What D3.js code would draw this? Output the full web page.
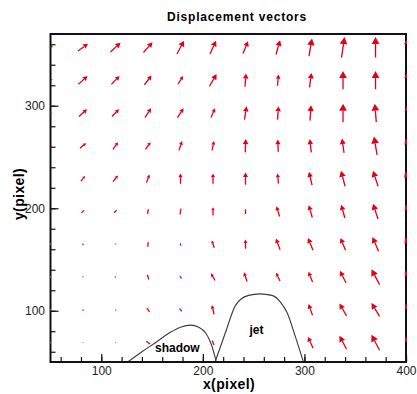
<!DOCTYPE html>
<html>
<head>
<meta charset="utf-8">
<script src="https://cdn.jsdelivr.net/npm/d3@7"></script>
<style>
  body { margin: 0; background: #fff; }
  svg { display: block; font-family: "Liberation Sans", Arial, sans-serif; }
</style>
</head>
<body>
<svg id="svg" width="417" height="394"></svg>
<script>
// grid columns / rows of the vector field (pixel units)
const colX = [50, 82, 114, 146, 178, 210, 242, 274, 306, 338, 370, 402];
const rowY = [357, 325, 293, 261, 229, 197, 165, 133, 101, 69];

// x component of each vector, one line per row (top to bottom), null = no vector
const U = [
  [5, 10, 10, 9, 7, 6, 5, 4, 3, 3, 0, 0],
  [4, 9, 8, 7, 5, 7, 1, 1, 2, 0, 0, 0],
  [3, 8, 7, 6, 6, 4, 2, 1, 1, 0, -1.5, 0],
  [3, 6, 5, 5, 3, 2, 0.5, -0.5, -1.5, -2, -3, -5],
  [1, 4, 5, 3, 0, 0, 0, -1, -3, -4, -5, -6],
  [2, 3, 3, 1, 1, 0, 0, -3, -3.5, -3.5, -5, -5],
  [0, 0, 0, 0.3, -0.5, -2.5, 0, -4, -5, -5, -6, -6],
  [0, 1, 1, -1.5, -2, -4, -3, -4, -4, -6, -8, -6],
  [0, 0, -1, -3, -2.5, -2, null, null, -4, -7, -8, -5],
  [0, 0, 0, -4, null, -2, null, null, -5, -7, -8, -5]
];

// y component of each vector
const V = [
  [3, 7, 9, 10, 13, 13, 12, 14, 17, 20, 20, 20],
  [2, 8, 8, 9, 8, 12, 13, 11, 14, 18, 18, 18],
  [1, 7, 7, 9, 9, 9, 13, 13, 15, 18, 18, 17],
  [1, 5, 7, 7, 9, 9, 13, 12, 13, 14, 18, 14],
  [0.5, 5, 6, 8, 10, 10, 12, 10, 13, 15, 15, 14],
  [1, 3, 3, 5, 6, 8, 5, 10, 12, 13, 15, 13],
  [0, 2, 0, 5, 3, 7, 9, 11, 12, 12, 14, 13],
  [0, 0.8, 1, 5, 3, 7, 9, 8, 10, 12, 15, 12],
  [0, 2, 1, 4, 3, 9, null, null, 11, 12, 13, 12],
  [0, 1, 1, 3, null, 5, null, null, 11, 13, 15, 12]
];

// outlines of the two regions
const shadowX = [126, 140, 155, 168, 178, 188, 196, 203, 208, 213];
const shadowY = [50, 60, 70, 79, 84, 86, 84, 78, 68, 51];
const jetX = [212, 222, 232, 237, 245, 256, 268, 276, 283, 291, 299];
const jetY = [50, 78, 105, 111, 115, 116.5, 115, 109, 98, 75, 50];

const xTicks = [100, 200, 300, 400];
const yTicks = [100, 200, 300];

const svg = d3.select('#svg');
const plotLeft = 50.5, plotTop = 34, plotRight = 406, plotBottom = 362;

const x = d3.scaleLinear().domain([50, 400]).range([plotLeft, plotRight]);
const y = d3.scaleLinear().domain([50, 370]).range([plotBottom, plotTop]);

// clip a little past the frame so edge vectors show over the border
svg.append('clipPath').attr('id', 'plotClip')
  .append('rect')
  .attr('x', plotLeft).attr('y', plotTop)
  .attr('width', plotRight - plotLeft + 1).attr('height', plotBottom - plotTop);

// region outlines
const line = d3.line().x(d => x(d[0])).y(d => y(d[1])).curve(d3.curveMonotoneX);
svg.append('path')
  .attr('d', line(shadowX.map((v, i) => [v, shadowY[i]])))
  .attr('fill', 'none').attr('stroke', '#3a3a3a').attr('stroke-width', 1.1);
svg.append('path')
  .attr('d', line(jetX.map((v, i) => [v, jetY[i]])))
  .attr('fill', 'none').attr('stroke', '#3a3a3a').attr('stroke-width', 1.1);

svg.append('text').attr('x', 155).attr('y', 351.5)
  .style('font-size', '12px').style('font-weight', 'bold').text('shadow');
svg.append('text').attr('x', 249.5).attr('y', 334)
  .style('font-size', '12px').style('font-weight', 'bold').text('jet');

// axes with inward ticks
const xMinor = d3.range(60, 401, 20);
const yMinor = d3.range(60, 361, 20);

svg.append('g')
  .attr('transform', 'translate(0,' + plotBottom + ')')
  .call(d3.axisBottom(x).tickValues(xMinor).tickSize(-5).tickFormat(''))
  .call(g => g.select('.domain').remove());
svg.append('g')
  .attr('transform', 'translate(0,' + plotBottom + ')')
  .call(d3.axisBottom(x).tickValues(xTicks).tickSize(-8).tickPadding(4))
  .call(g => g.select('.domain').remove())
  .call(g => g.selectAll('text').style('font-size', '12px').attr('fill', '#222')
    .attr('font-family', '"Liberation Sans", Arial, sans-serif'));

svg.append('g')
  .attr('transform', 'translate(' + plotLeft + ',0)')
  .call(d3.axisLeft(y).tickValues(yMinor).tickSize(-5).tickFormat(''))
  .call(g => g.select('.domain').remove());
svg.append('g')
  .attr('transform', 'translate(' + plotLeft + ',0)')
  .call(d3.axisLeft(y).tickValues(yTicks).tickSize(-8).tickPadding(5.5))
  .call(g => g.select('.domain').remove())
  .call(g => g.selectAll('text').style('font-size', '12px').attr('fill', '#222')
    .attr('font-family', '"Liberation Sans", Arial, sans-serif'));

svg.selectAll('.tick line').attr('stroke', '#111').attr('stroke-width', 1.2);

// plot frame
svg.append('rect')
  .attr('x', plotLeft).attr('y', plotTop)
  .attr('width', plotRight - plotLeft).attr('height', plotBottom - plotTop)
  .attr('fill', 'none').attr('stroke', '#111').attr('stroke-width', 2);

// build vector list
const vectors = [];
rowY.forEach((yy, i) => {
  colX.forEach((xx, j) => {
    if (U[i][j] === null) return;
    vectors.push({ x: xx, y: yy, u: U[i][j], v: V[i][j] });
  });
});

// draw arrows centred on grid points
const red = '#e0001a';
const arrows = svg.append('g').attr('clip-path', 'url(#plotClip)');
vectors.forEach(d => {
  const x0 = x(d.x - d.u / 2), y0 = y(d.y - d.v / 2);
  const x1 = x(d.x + d.u / 2), y1 = y(d.y + d.v / 2);
  const dx = x1 - x0, dy = y1 - y0;
  const len = Math.sqrt(dx * dx + dy * dy);
  if (len < 0.8) {
    arrows.append('circle').attr('cx', x(d.x)).attr('cy', y(d.y)).attr('r', 0.9)
      .attr('fill', '#f08080');
    return;
  }
  const ux = dx / len, uy = dy / len;
  const hl = Math.min(len * 0.38, 7), hw = hl * 0.55;
  const bx = x1 - ux * hl, by = y1 - uy * hl;
  arrows.append('line')
    .attr('x1', x0).attr('y1', y0).attr('x2', bx).attr('y2', by)
    .attr('stroke', red).attr('stroke-width', 1.3);
  arrows.append('path')
    .attr('d', 'M' + x1 + ',' + y1 + 'L' + (bx - uy * hw) + ',' + (by + ux * hw) +
      'L' + (bx + uy * hw) + ',' + (by - ux * hw) + 'Z')
    .attr('fill', red);
});

// titles
svg.append('text')
  .attr('x', 237).attr('y', 21)
  .attr('text-anchor', 'middle')
  .style('font-size', '12px').style('font-weight', 'bold')
  .style('letter-spacing', '0.8px')
  .text('Displacement vectors');

svg.append('text')
  .attr('x', 229).attr('y', 389)
  .attr('text-anchor', 'middle')
  .style('font-size', '14px').style('font-weight', 'bold')
  .style('letter-spacing', '0.4px')
  .text('x(pixel)');

svg.append('text')
  .attr('transform', 'translate(24,194) rotate(-90)')
  .attr('text-anchor', 'middle')
  .style('font-size', '14px').style('font-weight', 'bold')
  .style('letter-spacing', '0.4px')
  .text('y(pixel)');
</script>
</body>
</html>
